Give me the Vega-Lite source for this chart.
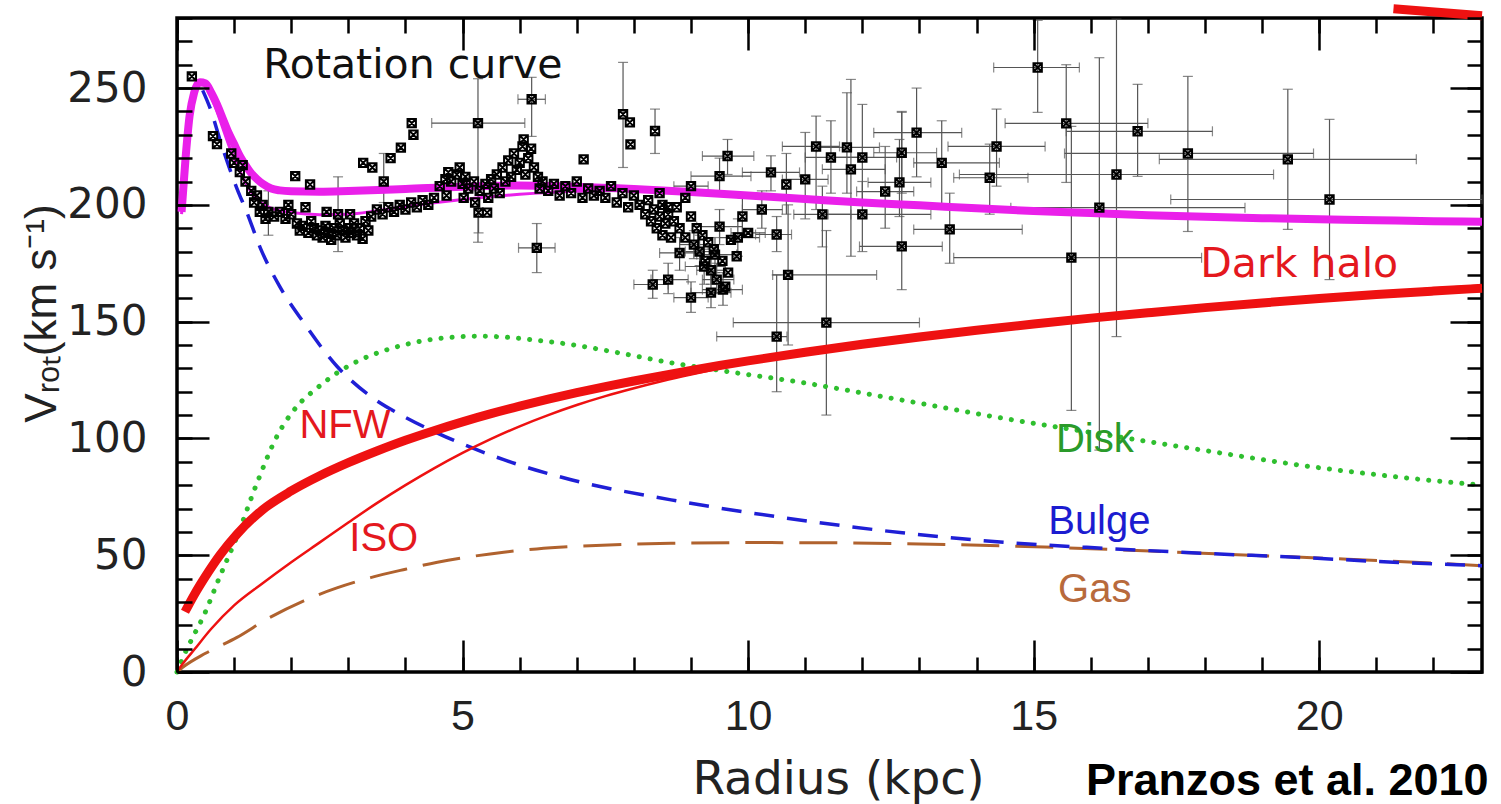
{
  "$schema": "https://vega.github.io/schema/vega-lite/v6.json",
  "width": 1305,
  "height": 654,
  "autosize": {"type": "none"},
  "padding": {"left": 177, "top": 18, "right": 19, "bottom": 132},
  "background": "white",
  "config": {"view": {"stroke": "black", "strokeWidth": 3.5}},
  "datasets": {
    "curves": [
      {"s":"tot","r":0.08,"v":197},{"s":"tot","r":0.15,"v":220},{"s":"tot","r":0.22,"v":238},{"s":"tot","r":0.3,"v":248},{"s":"tot","r":0.4,"v":252.5},{"s":"tot","r":0.5,"v":252},{"s":"tot","r":0.6,"v":248},{"s":"tot","r":0.7,"v":243},{"s":"tot","r":0.8,"v":237},{"s":"tot","r":0.9,"v":231},{"s":"tot","r":1.0,"v":226},{"s":"tot","r":1.1,"v":221},{"s":"tot","r":1.2,"v":217},{"s":"tot","r":1.3,"v":213.5},{"s":"tot","r":1.4,"v":211},{"s":"tot","r":1.5,"v":209},{"s":"tot","r":1.65,"v":207},{"s":"tot","r":1.8,"v":206.2},{"s":"tot","r":2.0,"v":205.8},{"s":"tot","r":2.5,"v":205.6},{"s":"tot","r":3.0,"v":205.9},{"s":"tot","r":4.0,"v":206.8},{"s":"tot","r":5.0,"v":207.8},{"s":"tot","r":6.0,"v":208.3},{"s":"tot","r":7.0,"v":207.8},{"s":"tot","r":8.0,"v":206.8},{"s":"tot","r":9.0,"v":205.5},{"s":"tot","r":10.0,"v":204},{"s":"tot","r":11.0,"v":202.5},{"s":"tot","r":12.0,"v":201},{"s":"tot","r":13.0,"v":199.8},{"s":"tot","r":14.0,"v":198.5},{"s":"tot","r":15.0,"v":197.4},{"s":"tot","r":16.0,"v":196.5},{"s":"tot","r":17.0,"v":195.6},{"s":"tot","r":18.0,"v":194.9},{"s":"tot","r":19.0,"v":194.3},{"s":"tot","r":20.0,"v":193.8},{"s":"tot","r":21.0,"v":193.4},{"s":"tot","r":22.0,"v":193},{"s":"tot","r":22.85,"v":192.8},
      {"s":"tiso","r":0.08,"v":196},{"s":"tiso","r":0.15,"v":219},{"s":"tiso","r":0.22,"v":237},{"s":"tiso","r":0.3,"v":247},{"s":"tiso","r":0.4,"v":251.5},{"s":"tiso","r":0.5,"v":251},{"s":"tiso","r":0.6,"v":246},{"s":"tiso","r":0.7,"v":240},{"s":"tiso","r":0.8,"v":233},{"s":"tiso","r":0.9,"v":226},{"s":"tiso","r":1.0,"v":220},{"s":"tiso","r":1.1,"v":214.5},{"s":"tiso","r":1.2,"v":209.5},{"s":"tiso","r":1.3,"v":205.5},{"s":"tiso","r":1.4,"v":202.5},{"s":"tiso","r":1.6,"v":199},{"s":"tiso","r":1.8,"v":197.5},{"s":"tiso","r":2.0,"v":196.7},{"s":"tiso","r":2.5,"v":195.8},{"s":"tiso","r":3.0,"v":196},{"s":"tiso","r":3.5,"v":197.5},{"s":"tiso","r":4.0,"v":199.3},{"s":"tiso","r":5.0,"v":202.3},{"s":"tiso","r":6.0,"v":204.5},{"s":"tiso","r":7.0,"v":205.8},{"s":"tiso","r":8.0,"v":206.3},{"s":"tiso","r":9.0,"v":205.6},{"s":"tiso","r":10.0,"v":204.2},{"s":"tiso","r":12.0,"v":201.2},{"s":"tiso","r":14.0,"v":198.6},{"s":"tiso","r":16.0,"v":196.6},{"s":"tiso","r":18.0,"v":195},{"s":"tiso","r":20.0,"v":193.8},{"s":"tiso","r":22.85,"v":192.9},
      {"s":"nfw","r":0.14,"v":25.8},{"s":"nfw","r":0.3,"v":33},{"s":"nfw","r":0.5,"v":41},{"s":"nfw","r":0.75,"v":50},{"s":"nfw","r":1.05,"v":59},{"s":"nfw","r":1.5,"v":69.5},{"s":"nfw","r":2.0,"v":77.5},{"s":"nfw","r":2.5,"v":84},{"s":"nfw","r":3.0,"v":89.6},{"s":"nfw","r":3.5,"v":94.6},{"s":"nfw","r":4.0,"v":99.2},{"s":"nfw","r":4.5,"v":103.3},{"s":"nfw","r":5.0,"v":107.1},{"s":"nfw","r":5.5,"v":110.6},{"s":"nfw","r":6.0,"v":113.8},{"s":"nfw","r":6.5,"v":116.8},{"s":"nfw","r":7.0,"v":119.6},{"s":"nfw","r":7.5,"v":122.2},{"s":"nfw","r":8.0,"v":124.6},{"s":"nfw","r":8.5,"v":126.9},{"s":"nfw","r":9.0,"v":129.1},{"s":"nfw","r":9.5,"v":131.2},{"s":"nfw","r":10.0,"v":133.2},{"s":"nfw","r":11.0,"v":136.9},{"s":"nfw","r":12.0,"v":140.3},{"s":"nfw","r":13.0,"v":143.4},{"s":"nfw","r":14.0,"v":146.3},{"s":"nfw","r":15.0,"v":149},{"s":"nfw","r":16.0,"v":151.5},{"s":"nfw","r":17.0,"v":153.8},{"s":"nfw","r":18.0,"v":156},{"s":"nfw","r":19.0,"v":158},{"s":"nfw","r":20.0,"v":159.9},{"s":"nfw","r":21.0,"v":161.6},{"s":"nfw","r":22.0,"v":163.1},{"s":"nfw","r":22.85,"v":164.3},
      {"s":"iso","r":0.0,"v":0},{"s":"iso","r":0.1,"v":3.5},{"s":"iso","r":0.3,"v":9.5},{"s":"iso","r":0.6,"v":18.5},{"s":"iso","r":1.0,"v":28.5},{"s":"iso","r":1.5,"v":38},{"s":"iso","r":2.0,"v":47},{"s":"iso","r":2.5,"v":55.5},{"s":"iso","r":3.0,"v":64},{"s":"iso","r":3.5,"v":72.3},{"s":"iso","r":4.0,"v":80},{"s":"iso","r":4.5,"v":87.2},{"s":"iso","r":5.0,"v":93.8},{"s":"iso","r":5.5,"v":99.8},{"s":"iso","r":6.0,"v":105.2},{"s":"iso","r":6.5,"v":110},{"s":"iso","r":7.0,"v":114.3},{"s":"iso","r":7.5,"v":118.1},{"s":"iso","r":8.0,"v":121.5},{"s":"iso","r":8.5,"v":124.6},{"s":"iso","r":9.0,"v":127.4},{"s":"iso","r":9.5,"v":130},{"s":"iso","r":10.0,"v":132.4},{"s":"iso","r":11.0,"v":136.7},{"s":"iso","r":12.0,"v":140.5},{"s":"iso","r":13.0,"v":143.9},{"s":"iso","r":14.0,"v":147},{"s":"iso","r":15.0,"v":149.8},{"s":"iso","r":16.0,"v":152.4},{"s":"iso","r":17.0,"v":154.8},{"s":"iso","r":18.0,"v":157},{"s":"iso","r":19.0,"v":159},{"s":"iso","r":20.0,"v":160.9},{"s":"iso","r":21.0,"v":162.6},{"s":"iso","r":22.0,"v":164.2},{"s":"iso","r":22.85,"v":165.4},
      {"s":"disk","r":0.0,"v":0},{"s":"disk","r":0.1,"v":6},{"s":"disk","r":0.3,"v":16},{"s":"disk","r":0.46,"v":23.7},{"s":"disk","r":0.75,"v":40.9},{"s":"disk","r":1.05,"v":58},{"s":"disk","r":1.4,"v":80.9},{"s":"disk","r":1.75,"v":100.9},{"s":"disk","r":2.1,"v":113.7},{"s":"disk","r":2.45,"v":121.5},{"s":"disk","r":2.8,"v":128},{"s":"disk","r":3.2,"v":133.5},{"s":"disk","r":3.68,"v":138},{"s":"disk","r":4.2,"v":141.3},{"s":"disk","r":4.85,"v":143.4},{"s":"disk","r":5.3,"v":143.8},{"s":"disk","r":5.72,"v":143.4},{"s":"disk","r":6.3,"v":142},{"s":"disk","r":6.9,"v":140.2},{"s":"disk","r":7.7,"v":136.8},{"s":"disk","r":8.65,"v":132.4},{"s":"disk","r":9.7,"v":128.4},{"s":"disk","r":10.9,"v":124.1},{"s":"disk","r":12.65,"v":116.6},{"s":"disk","r":14.4,"v":108.9},{"s":"disk","r":16.15,"v":102},{"s":"disk","r":17.9,"v":95.2},{"s":"disk","r":19.65,"v":88.6},{"s":"disk","r":21.4,"v":83.4},{"s":"disk","r":22.85,"v":80},
      {"s":"bulge","r":0.45,"v":249},{"s":"bulge","r":0.6,"v":240},{"s":"bulge","r":0.75,"v":228},{"s":"bulge","r":0.9,"v":217},{"s":"bulge","r":1.05,"v":207},{"s":"bulge","r":1.22,"v":197},{"s":"bulge","r":1.46,"v":181.5},{"s":"bulge","r":1.8,"v":165},{"s":"bulge","r":2.22,"v":149.5},{"s":"bulge","r":2.8,"v":130.9},{"s":"bulge","r":3.39,"v":118},{"s":"bulge","r":3.97,"v":109.4},{"s":"bulge","r":4.56,"v":102.3},{"s":"bulge","r":5.72,"v":90.9},{"s":"bulge","r":6.9,"v":82.3},{"s":"bulge","r":8.65,"v":73.7},{"s":"bulge","r":10.5,"v":66.5},{"s":"bulge","r":12.7,"v":59.6},{"s":"bulge","r":14.5,"v":55.5},{"s":"bulge","r":16.2,"v":53},{"s":"bulge","r":18.0,"v":50.8},{"s":"bulge","r":19.7,"v":49},{"s":"bulge","r":21.3,"v":47},{"s":"bulge","r":22.85,"v":45.5},
      {"s":"gas","r":0.0,"v":0},{"s":"gas","r":0.1,"v":2},{"s":"gas","r":0.5,"v":8},{"s":"gas","r":1.05,"v":14.8},{"s":"gas","r":1.6,"v":23},{"s":"gas","r":2.22,"v":30.5},{"s":"gas","r":2.8,"v":36},{"s":"gas","r":3.39,"v":40.4},{"s":"gas","r":4.0,"v":44},{"s":"gas","r":4.56,"v":47},{"s":"gas","r":5.2,"v":49.6},{"s":"gas","r":5.72,"v":51.3},{"s":"gas","r":6.3,"v":52.7},{"s":"gas","r":6.9,"v":53.7},{"s":"gas","r":7.8,"v":54.6},{"s":"gas","r":8.65,"v":55.1},{"s":"gas","r":10.0,"v":55.4},{"s":"gas","r":11.5,"v":55.3},{"s":"gas","r":13.0,"v":54.8},{"s":"gas","r":14.5,"v":54},{"s":"gas","r":16.0,"v":52.8},{"s":"gas","r":17.5,"v":51.3},{"s":"gas","r":19.0,"v":49.8},{"s":"gas","r":20.5,"v":48.3},{"s":"gas","r":22.0,"v":46.6},{"s":"gas","r":22.85,"v":45.5},
      {"s":"corner","r":21.3,"v":284},{"s":"corner","r":22.85,"v":281}
    ],
    "pts": [
      {"r":0.26,"v":255},{"r":0.63,"v":229.4},{"r":0.7,"v":226},{"r":0.95,"v":222},{"r":1.0,"v":218},{"r":1.1,"v":214},{"r":1.15,"v":217},{"r":1.2,"v":210},{"r":1.3,"v":206},{"r":1.35,"v":201},{"r":1.4,"v":204},{"r":1.45,"v":197},{"r":1.5,"v":200},{"r":1.55,"v":194},{"r":1.6,"v":197,"vl":187,"vh":206},{"r":1.7,"v":195},{"r":1.8,"v":197},{"r":1.9,"v":194},{"r":1.95,"v":200},{"r":2.0,"v":196},{"r":2.07,"v":212.3},{"r":2.1,"v":192},{"r":2.15,"v":189},{"r":2.2,"v":191},{"r":2.25,"v":199},{"r":2.3,"v":188},{"r":2.33,"v":208.7},{"r":2.35,"v":193},{"r":2.4,"v":190},{"r":2.45,"v":187},{"r":2.5,"v":189},{"r":2.55,"v":186},{"r":2.6,"v":191},{"r":2.62,"v":197},{"r":2.65,"v":188},{"r":2.7,"v":185},{"r":2.75,"v":190},{"r":2.8,"v":187},{"r":2.82,"v":196,"vl":180,"vh":212},{"r":2.85,"v":192},{"r":2.9,"v":189},{"r":2.95,"v":186},{"r":3.0,"v":190},{"r":3.03,"v":196},{"r":3.05,"v":188},{"r":3.1,"v":192},{"r":3.15,"v":187},{"r":3.2,"v":190},{"r":3.25,"v":185.5},{"r":3.26,"v":218},{"r":3.3,"v":193},{"r":3.35,"v":189},{"r":3.4,"v":195},{"r":3.42,"v":216},{"r":3.5,"v":198},{"r":3.6,"v":196},{"r":3.62,"v":210,"vl":201,"vh":222},{"r":3.7,"v":199},{"r":3.74,"v":220},{"r":3.8,"v":197},{"r":3.9,"v":200},{"r":3.92,"v":224.5},{"r":4.0,"v":198},{"r":4.1,"v":201},{"r":4.11,"v":235},{"r":4.14,"v":230},{"r":4.2,"v":199},{"r":4.3,"v":202},{"r":4.4,"v":200},{"r":4.5,"v":203},{"r":4.6,"v":208},{"r":4.7,"v":211},{"r":4.72,"v":204},{"r":4.75,"v":214},{"r":4.8,"v":210},{"r":4.9,"v":213},{"r":4.95,"v":216},{"r":5.0,"v":209},{"r":5.02,"v":203},{"r":5.05,"v":212},{"r":5.1,"v":207},{"r":5.2,"v":210},{"r":5.22,"v":201},{"r":5.27,"v":235,"rl":4.46,"rh":6.09,"vl":184,"vh":254},{"r":5.28,"v":196.7,"vl":188,"vh":206},{"r":5.3,"v":206},{"r":5.4,"v":209},{"r":5.43,"v":196.7},{"r":5.45,"v":203},{"r":5.5,"v":211},{"r":5.55,"v":207},{"r":5.6,"v":213},{"r":5.65,"v":205},{"r":5.7,"v":216},{"r":5.75,"v":210},{"r":5.8,"v":219},{"r":5.85,"v":212},{"r":5.9,"v":222},{"r":5.95,"v":215},{"r":6.0,"v":218},{"r":6.05,"v":225},{"r":6.07,"v":228},{"r":6.1,"v":213},{"r":6.15,"v":220},{"r":6.2,"v":224},{"r":6.21,"v":245.2,"rl":5.97,"rh":6.45,"vl":229.3,"vh":254.6},{"r":6.25,"v":216},{"r":6.3,"v":181.6,"rl":5.98,"rh":6.62,"vl":171,"vh":192},{"r":6.32,"v":212},{"r":6.35,"v":207},{"r":6.4,"v":210},{"r":6.5,"v":206},{"r":6.6,"v":209},{"r":6.7,"v":204},{"r":6.8,"v":208},{"r":6.9,"v":205},{"r":7.0,"v":210},{"r":7.1,"v":203},{"r":7.12,"v":219.5},{"r":7.2,"v":207},{"r":7.3,"v":204},{"r":7.4,"v":206},{"r":7.5,"v":203},{"r":7.6,"v":208},{"r":7.7,"v":201},{"r":7.8,"v":205},{"r":7.81,"v":238.8,"vl":216,"vh":261},{"r":7.9,"v":199},{"r":7.93,"v":235.3},{"r":7.94,"v":225.9},{"r":8.0,"v":204},{"r":8.1,"v":200},{"r":8.2,"v":196},{"r":8.25,"v":202},{"r":8.3,"v":193},{"r":8.35,"v":198},{"r":8.37,"v":231.6,"vl":222,"vh":241},{"r":8.4,"v":190},{"r":8.45,"v":195},{"r":8.5,"v":187},{"r":8.55,"v":192},{"r":8.6,"v":199},{"r":8.65,"v":186},
      {"r":8.33,"v":165.9,"rl":8.0,"rh":8.6,"vl":160,"vh":172},{"r":8.6,"v":168,"rl":8.3,"rh":8.95,"vl":162,"vh":175},{"r":8.8,"v":179.4,"rl":8.45,"rh":9.2,"vl":172,"vh":186},{"r":9.0,"v":160.3,"rl":8.7,"rh":9.3,"vl":154,"vh":167},{"r":9.23,"v":173.6,"rl":8.9,"rh":9.6,"vl":166,"vh":181},{"r":9.35,"v":162.4,"rl":9.0,"rh":9.7,"vl":156,"vh":170},{"r":9.42,"v":178.7,"rl":9.1,"rh":9.8,"vl":171,"vh":186},{"r":9.56,"v":163.7,"rl":9.2,"rh":9.9,"vl":157,"vh":171},{"r":9.5,"v":190.7,"rl":9.1,"rh":9.9,"vl":183,"vh":198},{"r":9.82,"v":186,"rl":9.5,"rh":10.2,"vl":178,"vh":194},{"r":10.24,"v":198,"rl":9.9,"rh":10.6,"vl":190,"vh":206},{"r":9.64,"v":220.9,"rl":9.2,"rh":10.1,"vl":213,"vh":228},{"r":9.5,"v":212.3,"rl":9.0,"rh":10.05,"vl":205,"vh":220},
      {"r":8.7,"v":193},{"r":8.75,"v":199},{"r":8.8,"v":190},{"r":8.9,"v":186},{"r":9.0,"v":195},{"r":9.05,"v":183,"rl":8.8,"rh":9.3,"vl":177,"vh":189},{"r":9.1,"v":190},{"r":9.15,"v":180,"rl":8.9,"rh":9.45,"vl":174,"vh":187},{"r":9.2,"v":187},{"r":9.25,"v":176},{"r":9.3,"v":184},{"r":9.35,"v":172,"rl":9.1,"rh":9.6,"vl":166,"vh":178},{"r":9.4,"v":181},{"r":9.45,"v":168,"rl":9.2,"rh":9.75,"vl":162,"vh":175},{"r":9.55,"v":176},{"r":9.6,"v":165},{"r":9.65,"v":171},{"r":9.7,"v":185},{"r":9.8,"v":178},{"r":9.9,"v":195,"vl":187,"vh":203},{"r":10.0,"v":188,"rl":9.7,"rh":10.3},{"r":8.45,"v":205},{"r":8.5,"v":200},{"r":8.6,"v":196},{"r":8.9,"v":203},{"r":9.0,"v":208,"rl":8.7,"rh":9.3},
      {"r":10.5,"v":187.3,"rl":10.13,"rh":10.76,"vl":180,"vh":195},{"r":10.7,"v":170,"rl":10.43,"rh":12.25,"vl":140,"vh":200},{"r":10.5,"v":143.6,"rl":9.45,"rh":10.68,"vl":120,"vh":170},{"r":11.37,"v":149.6,"rl":9.74,"rh":13.0,"vl":110,"vh":189},{"r":10.67,"v":208.7,"vl":196,"vh":222},{"r":10.4,"v":213.9,"rl":9.9,"rh":10.9,"vl":206,"vh":221},{"r":11.0,"v":210.9,"rl":10.6,"rh":11.4,"vl":194,"vh":231},{"r":11.19,"v":225,"rl":10.6,"rh":11.6,"vl":198,"vh":238},{"r":11.45,"v":220.3,"rl":11.0,"rh":12.0,"vl":205,"vh":236},{"r":11.3,"v":195.9,"rl":10.8,"rh":11.8,"vl":182,"vh":208},{"r":11.73,"v":224.6,"rl":11.2,"rh":12.3,"vl":205,"vh":248},{"r":11.8,"v":215.2,"rl":11.3,"rh":12.4,"vl":178,"vh":253.7},{"r":12.0,"v":220.3,"rl":11.5,"rh":12.6,"vl":200,"vh":243},{"r":12.0,"v":195.9,"rl":11.4,"rh":13.2,"vl":180,"vh":210},{"r":12.4,"v":205.7,"rl":11.9,"rh":12.9,"vl":190,"vh":225},{"r":12.65,"v":209.6,"rl":12.1,"rh":13.2,"vl":195,"vh":228},{"r":12.69,"v":222.3,"rl":12.2,"rh":13.3,"vl":205,"vh":240},{"r":12.69,"v":182.2,"rl":11.95,"rh":13.4,"vl":163.7,"vh":239.6},{"r":12.95,"v":230.9,"rl":12.2,"rh":13.74,"vl":212,"vh":250},{"r":13.39,"v":218,"rl":12.9,"rh":14.4,"vl":200,"vh":236},{"r":13.53,"v":189.5,"rl":12.9,"rh":14.8,"vl":175,"vh":205},{"r":14.23,"v":211.6,"rl":13.6,"rh":14.9,"vl":196,"vh":226},{"r":14.35,"v":225,"rl":13.5,"rh":15.2,"vl":208,"vh":241},{"r":15.07,"v":258.8,"rl":14.3,"rh":15.8,"vl":239.6,"vh":279},{"r":15.57,"v":234.9,"rl":14.5,"rh":17.0,"vl":209.6,"vh":260},{"r":15.66,"v":177.4,"rl":13.6,"rh":17.94,"vl":112,"vh":233.6},{"r":16.15,"v":198.8,"rl":14.6,"rh":18.7,"vl":95,"vh":263},{"r":16.45,"v":213,"rl":13.7,"rh":19.2,"vl":143.6,"vh":279.5},{"r":16.82,"v":231.5,"rl":15.57,"rh":18.13,"vl":212.2,"vh":251.6},{"r":17.7,"v":222,"rl":15.54,"rh":19.9,"vl":188.6,"vh":255},{"r":19.45,"v":219.5,"rl":17.2,"rh":21.7,"vl":189.5,"vh":249.5},{"r":20.18,"v":202.3,"rl":17.4,"rh":22.85,"vl":168,"vh":236.6}
    ],
    "labels": [
      {"t":"Rotation curve","k":"black","g":"a","r":4.13,"v":259.3},
      {"t":"Dark halo","k":"red","g":"a","r":19.65,"v":174.4},
      {"t":"NFW","k":"red","g":"b","r":2.94,"v":105.4},
      {"t":"ISO","k":"red","g":"b","r":3.62,"v":57},
      {"t":"Disk","k":"green","g":"b","r":16.07,"v":99.4},
      {"t":"Bulge","k":"blue","g":"b","r":16.15,"v":64.3},
      {"t":"Gas","k":"brown","g":"b","r":16.07,"v":35.1},
      {"t":"Pranzos et al. 2010","k":"black","g":"c","r":19.44,"v":-52.7}
    ]
  },
  "resolve": {"axis": {"x": "independent", "y": "independent"}},
  "layer": [
    {
      "data": {"name": "pts"},
      "transform": [{"filter": "isValid(datum.rl)"}],
      "mark": {"type": "rule", "color": "#555555", "strokeWidth": 1.2},
      "encoding": {
        "x": {"field": "rl", "type": "quantitative",
          "scale": {"domain": [0, 22.85], "nice": false, "zero": false},
          "axis": {"orient": "bottom", "offset": -15, "values": [0,1,2,3,4,5,6,7,8,9,10,11,12,13,14,15,16,17,18,19,20,21,22],
            "labelExpr": "datum.value % 5 === 0 ? datum.label : ''",
            "domain": false, "grid": false, "ticks": true, "tickSize": 15, "tickWidth": 2.5, "tickColor": "black",
            "labelPadding": 23, "labelFont": "Liberation Sans", "labelFontSize": 43, "labelColor": "#222222",
            "labelFlush": false, "labelOverlap": false, "labelBound": false, "zindex": 1,
            "title": "Radius (kpc)", "titleFont": "DejaVu Sans", "titleFontSize": 47, "titleFontWeight": "normal",
            "titleColor": "#222222", "titleBaseline": "alphabetic", "titleX": 661, "titleY": 136}},
        "x2": {"field": "rh"},
        "y": {"field": "v", "type": "quantitative",
          "scale": {"domain": [0, 280], "nice": false, "zero": false},
          "axis": {"orient": "left", "offset": -15, "values": [0,10,20,30,40,50,60,70,80,90,100,110,120,130,140,150,160,170,180,190,200,210,220,230,240,250,260,270,280],
            "labelExpr": "datum.value % 50 === 0 ? datum.label : ''",
            "domain": false, "grid": false, "ticks": true, "tickSize": 15, "tickWidth": 2.5, "tickColor": "black",
            "labelPadding": 30, "labelFont": "DejaVu Sans", "labelFontSize": 42, "labelColor": "#222222",
            "labelFlush": false, "labelOverlap": false, "labelBound": false, "zindex": 1,
            "title": "Vᵣₒₜ(km s⁻¹)", "titleFont": "Liberation Sans", "titleFontSize": 44, "titleFontWeight": "normal",
            "titleColor": "#222222", "titleBaseline": "alphabetic", "titleAlign": "center", "titleAngle": 270,
            "titleX": -137, "titleY": 295}}
      }
    },
    {
      "data": {"name": "pts"},
      "transform": [{"filter": "isValid(datum.vl)"}],
      "mark": {"type": "rule", "color": "#555555", "strokeWidth": 1.2},
      "encoding": {
        "x": {"field": "r", "type": "quantitative",
          "axis": {"orient": "bottom", "offset": -32, "values": [0,5,10,15,20],
            "labels": false, "domain": false, "grid": false, "title": null, "ticks": true, "tickSize": 32, "tickWidth": 2.5, "tickColor": "black", "zindex": 1}},
        "y": {"field": "vl", "type": "quantitative",
          "axis": {"orient": "left", "offset": -32, "values": [0,50,100,150,200,250],
            "labels": false, "domain": false, "grid": false, "title": null, "ticks": true, "tickSize": 32, "tickWidth": 2.5, "tickColor": "black", "zindex": 1}},
        "y2": {"field": "vh"}
      }
    },
    {
      "data": {"name": "pts"},
      "transform": [{"filter": "isValid(datum.vl)"}, {"fold": ["vl", "vh"], "as": ["k", "vv"]}],
      "mark": {"type": "tick", "orient": "horizontal", "color": "#555555", "size": 10, "thickness": 1.2},
      "encoding": {
        "x": {"field": "r", "type": "quantitative",
          "axis": {"orient": "top", "offset": -15, "values": [0,1,2,3,4,5,6,7,8,9,10,11,12,13,14,15,16,17,18,19,20,21,22],
            "labels": false, "domain": false, "grid": false, "title": null, "ticks": true, "tickSize": 15, "tickWidth": 2.5, "tickColor": "black", "zindex": 1}},
        "y": {"field": "vv", "type": "quantitative",
          "axis": {"orient": "right", "offset": -15, "values": [0,10,20,30,40,50,60,70,80,90,100,110,120,130,140,150,160,170,180,190,200,210,220,230,240,250,260,270,280],
            "labels": false, "domain": false, "grid": false, "title": null, "ticks": true, "tickSize": 15, "tickWidth": 2.5, "tickColor": "black", "zindex": 1}}
      }
    },
    {
      "data": {"name": "pts"},
      "transform": [{"filter": "isValid(datum.rl)"}, {"fold": ["rl", "rh"], "as": ["k", "rr"]}],
      "mark": {"type": "tick", "orient": "vertical", "color": "#555555", "size": 10, "thickness": 1.2},
      "encoding": {
        "x": {"field": "rr", "type": "quantitative",
          "axis": {"orient": "top", "offset": -32, "values": [0,5,10,15,20],
            "labels": false, "domain": false, "grid": false, "title": null, "ticks": true, "tickSize": 32, "tickWidth": 2.5, "tickColor": "black", "zindex": 1}},
        "y": {"field": "v", "type": "quantitative",
          "axis": {"orient": "right", "offset": -32, "values": [0,50,100,150,200,250],
            "labels": false, "domain": false, "grid": false, "title": null, "ticks": true, "tickSize": 32, "tickWidth": 2.5, "tickColor": "black", "zindex": 1}}
      }
    },
    {
      "data": {"name": "curves"},
      "transform": [{"filter": "datum.s === 'gas'"}],
      "mark": {"type": "line", "color": "#b0622e", "strokeWidth": 3, "strokeDash": [38, 16], "interpolate": "monotone"},
      "encoding": {
        "x": {"field": "r", "type": "quantitative", "axis": null},
        "y": {"field": "v", "type": "quantitative", "axis": null}
      }
    },
    {
      "data": {"name": "curves"},
      "transform": [{"filter": "datum.s === 'bulge'"}],
      "mark": {"type": "line", "color": "#1f1fd6", "strokeWidth": 3.5, "strokeDash": [20, 13], "interpolate": "monotone"},
      "encoding": {
        "x": {"field": "r", "type": "quantitative", "axis": null},
        "y": {"field": "v", "type": "quantitative", "axis": null}
      }
    },
    {
      "data": {"name": "curves"},
      "transform": [{"filter": "datum.s === 'disk'"}],
      "mark": {"type": "line", "color": "#2fbf2f", "strokeWidth": 5, "strokeDash": [0.1, 11], "strokeCap": "round", "interpolate": "monotone"},
      "encoding": {
        "x": {"field": "r", "type": "quantitative", "axis": null},
        "y": {"field": "v", "type": "quantitative", "axis": null}
      }
    },
    {
      "data": {"name": "curves"},
      "transform": [{"filter": "datum.s === 'iso'"}],
      "mark": {"type": "line", "color": "#ee1111", "strokeWidth": 2.5, "interpolate": "monotone"},
      "encoding": {
        "x": {"field": "r", "type": "quantitative", "axis": null},
        "y": {"field": "v", "type": "quantitative", "axis": null}
      }
    },
    {
      "data": {"name": "curves"},
      "transform": [{"filter": "datum.s === 'nfw'"}],
      "mark": {"type": "line", "color": "#ee1111", "strokeWidth": 9, "interpolate": "monotone"},
      "encoding": {
        "x": {"field": "r", "type": "quantitative", "axis": null},
        "y": {"field": "v", "type": "quantitative", "axis": null}
      }
    },
    {
      "data": {"name": "curves"},
      "transform": [{"filter": "datum.s === 'tiso'"}],
      "mark": {"type": "line", "color": "#ea20ea", "strokeWidth": 3, "interpolate": "monotone"},
      "encoding": {
        "x": {"field": "r", "type": "quantitative", "axis": null},
        "y": {"field": "v", "type": "quantitative", "axis": null}
      }
    },
    {
      "data": {"name": "curves"},
      "transform": [{"filter": "datum.s === 'tot'"}],
      "mark": {"type": "line", "color": "#ea20ea", "strokeWidth": 8, "interpolate": "monotone"},
      "encoding": {
        "x": {"field": "r", "type": "quantitative", "axis": null},
        "y": {"field": "v", "type": "quantitative", "axis": null}
      }
    },
    {
      "data": {"name": "curves"},
      "transform": [{"filter": "datum.s === 'corner'"}],
      "mark": {"type": "line", "color": "#ee1111", "strokeWidth": 9},
      "encoding": {
        "x": {"field": "r", "type": "quantitative", "axis": null},
        "y": {"field": "v", "type": "quantitative", "axis": null}
      }
    },
    {
      "data": {"name": "pts"},
      "mark": {"type": "point", "shape": "M-1,-1L1,1M1,-1L-1,1M-1,-1H1V1H-1Z", "filled": false, "stroke": "black", "strokeWidth": 2, "size": 70, "opacity": 1},
      "encoding": {
        "x": {"field": "r", "type": "quantitative", "axis": null},
        "y": {"field": "v", "type": "quantitative", "axis": null}
      }
    },
    {
      "data": {"name": "labels"},
      "transform": [{"filter": "datum.g === 'a'"}],
      "mark": {"type": "text", "font": "DejaVu Sans", "fontSize": 41, "align": "center", "baseline": "middle"},
      "encoding": {
        "x": {"field": "r", "type": "quantitative", "axis": null},
        "y": {"field": "v", "type": "quantitative", "axis": null},
        "text": {"field": "t"},
        "color": {"field": "k", "type": "nominal", "legend": null,
          "scale": {"domain": ["black", "red", "green", "blue", "brown"], "range": ["#111111", "#e4181e", "#2a9a2a", "#1c1cd0", "#b86a3c"]}}
      }
    },
    {
      "data": {"name": "labels"},
      "transform": [{"filter": "datum.g === 'b'"}],
      "mark": {"type": "text", "font": "Liberation Sans", "fontSize": 40, "align": "center", "baseline": "middle"},
      "encoding": {
        "x": {"field": "r", "type": "quantitative", "axis": null},
        "y": {"field": "v", "type": "quantitative", "axis": null},
        "text": {"field": "t"},
        "color": {"field": "k", "type": "nominal", "legend": null,
          "scale": {"domain": ["black", "red", "green", "blue", "brown"], "range": ["#111111", "#e4181e", "#2a9a2a", "#1c1cd0", "#b86a3c"]}}
      }
    },
    {
      "data": {"name": "labels"},
      "transform": [{"filter": "datum.g === 'c'"}],
      "mark": {"type": "text", "font": "Liberation Sans", "fontSize": 45, "fontWeight": "bold", "align": "center", "baseline": "alphabetic", "color": "black"},
      "encoding": {
        "x": {"field": "r", "type": "quantitative", "axis": null},
        "y": {"field": "v", "type": "quantitative", "axis": null},
        "text": {"field": "t"}
      }
    }
  ]
}
